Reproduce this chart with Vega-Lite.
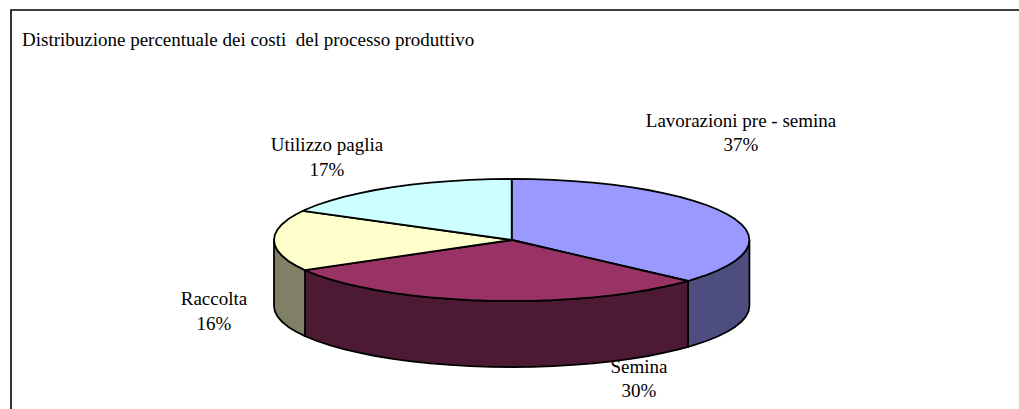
{"$schema":"https://vega.github.io/schema/vega-lite/v6.json","width":1019,"height":409,"padding":0,"autosize":{"type":"none"},"background":"white","config":{"view":{"stroke":null}},
"datasets":{
"frame":[{"o":0,"x":1019,"y":10},{"o":1,"x":11,"y":10},{"o":2,"x":11,"y":409}],
"title":[{"text":"Distribuzione percentuale dei costi \u00a0del processo produttivo","x":22,"y":40}],
"labels":[
{"text":"Lavorazioni pre - semina","x":741,"y":121},
{"text":"37%","x":741,"y":145},
{"text":"Utilizzo paglia","x":327,"y":145},
{"text":"17%","x":327,"y":170},
{"text":"Raccolta","x":214,"y":299},
{"text":"16%","x":214,"y":324},
{"text":"Semina","x":639,"y":367},
{"text":"30%","x":639,"y":391}],
"slices":[
{"p":"wa","o":0,"x":749.4,"y":240},{"p":"wa","o":1,"x":748.5,"y":245.3},{"p":"wa","o":2,"x":745.8,"y":250.6},{"p":"wa","o":3,"x":741.3,"y":255.8},{"p":"wa","o":4,"x":735.1,"y":260.9},{"p":"wa","o":5,"x":727.1,"y":265.8},{"p":"wa","o":6,"x":717.6,"y":270.5},{"p":"wa","o":7,"x":706.4,"y":275},{"p":"wa","o":8,"x":693.8,"y":279.2},{"p":"wa","o":9,"x":688,"y":281},{"p":"wa","o":10,"x":688,"y":347},{"p":"wa","o":11,"x":693.8,"y":345.2},{"p":"wa","o":12,"x":706.4,"y":341},{"p":"wa","o":13,"x":717.6,"y":336.5},{"p":"wa","o":14,"x":727.1,"y":331.8},{"p":"wa","o":15,"x":735.1,"y":326.9},{"p":"wa","o":16,"x":741.3,"y":321.8},{"p":"wa","o":17,"x":745.8,"y":316.6},{"p":"wa","o":18,"x":748.5,"y":311.3},{"p":"wa","o":19,"x":749.4,"y":306},{"p":"wa","o":20,"x":749.4,"y":240},
{"p":"wb","o":0,"x":688,"y":281},{"p":"wb","o":1,"x":679.8,"y":283.1},{"p":"wb","o":2,"x":664.5,"y":286.7},{"p":"wb","o":3,"x":648,"y":290},{"p":"wb","o":4,"x":630.6,"y":292.8},{"p":"wb","o":5,"x":612.2,"y":295.3},{"p":"wb","o":6,"x":593,"y":297.3},{"p":"wb","o":7,"x":573.2,"y":298.9},{"p":"wb","o":8,"x":553,"y":300.1},{"p":"wb","o":9,"x":532.4,"y":300.8},{"p":"wb","o":10,"x":511.7,"y":301},{"p":"wb","o":11,"x":491,"y":300.8},{"p":"wb","o":12,"x":470.4,"y":300.1},{"p":"wb","o":13,"x":450.2,"y":298.9},{"p":"wb","o":14,"x":430.4,"y":297.3},{"p":"wb","o":15,"x":411.2,"y":295.3},{"p":"wb","o":16,"x":392.8,"y":292.8},{"p":"wb","o":17,"x":375.4,"y":290},{"p":"wb","o":18,"x":358.9,"y":286.7},{"p":"wb","o":19,"x":343.6,"y":283.1},{"p":"wb","o":20,"x":329.6,"y":279.2},{"p":"wb","o":21,"x":317,"y":275},{"p":"wb","o":22,"x":305.8,"y":270.5},{"p":"wb","o":23,"x":305,"y":270.1},{"p":"wb","o":24,"x":305,"y":336.1},{"p":"wb","o":25,"x":305.8,"y":336.5},{"p":"wb","o":26,"x":317,"y":341},{"p":"wb","o":27,"x":329.6,"y":345.2},{"p":"wb","o":28,"x":343.6,"y":349.1},{"p":"wb","o":29,"x":358.9,"y":352.7},{"p":"wb","o":30,"x":375.4,"y":356},{"p":"wb","o":31,"x":392.8,"y":358.8},{"p":"wb","o":32,"x":411.2,"y":361.3},{"p":"wb","o":33,"x":430.4,"y":363.3},{"p":"wb","o":34,"x":450.2,"y":364.9},{"p":"wb","o":35,"x":470.4,"y":366.1},{"p":"wb","o":36,"x":491,"y":366.8},{"p":"wb","o":37,"x":511.7,"y":367},{"p":"wb","o":38,"x":532.4,"y":366.8},{"p":"wb","o":39,"x":553,"y":366.1},{"p":"wb","o":40,"x":573.2,"y":364.9},{"p":"wb","o":41,"x":593,"y":363.3},{"p":"wb","o":42,"x":612.2,"y":361.3},{"p":"wb","o":43,"x":630.6,"y":358.8},{"p":"wb","o":44,"x":648,"y":356},{"p":"wb","o":45,"x":664.5,"y":352.7},{"p":"wb","o":46,"x":679.8,"y":349.1},{"p":"wb","o":47,"x":688,"y":347},{"p":"wb","o":48,"x":688,"y":281},
{"p":"wc","o":0,"x":305,"y":270.1},{"p":"wc","o":1,"x":296.3,"y":265.8},{"p":"wc","o":2,"x":288.3,"y":260.9},{"p":"wc","o":3,"x":282.1,"y":255.8},{"p":"wc","o":4,"x":277.6,"y":250.6},{"p":"wc","o":5,"x":274.9,"y":245.3},{"p":"wc","o":6,"x":274,"y":240},{"p":"wc","o":7,"x":274,"y":306},{"p":"wc","o":8,"x":274.9,"y":311.3},{"p":"wc","o":9,"x":277.6,"y":316.6},{"p":"wc","o":10,"x":282.1,"y":321.8},{"p":"wc","o":11,"x":288.3,"y":326.9},{"p":"wc","o":12,"x":296.3,"y":331.8},{"p":"wc","o":13,"x":305,"y":336.1},{"p":"wc","o":14,"x":305,"y":270.1},
{"p":"a","o":0,"x":511.7,"y":240},{"p":"a","o":1,"x":511.7,"y":179},{"p":"a","o":2,"x":532.4,"y":179.2},{"p":"a","o":3,"x":553,"y":179.9},{"p":"a","o":4,"x":573.2,"y":181.1},{"p":"a","o":5,"x":593,"y":182.7},{"p":"a","o":6,"x":612.2,"y":184.7},{"p":"a","o":7,"x":630.6,"y":187.2},{"p":"a","o":8,"x":648,"y":190},{"p":"a","o":9,"x":664.5,"y":193.3},{"p":"a","o":10,"x":679.8,"y":196.9},{"p":"a","o":11,"x":693.8,"y":200.8},{"p":"a","o":12,"x":706.4,"y":205},{"p":"a","o":13,"x":717.6,"y":209.5},{"p":"a","o":14,"x":727.1,"y":214.2},{"p":"a","o":15,"x":735.1,"y":219.1},{"p":"a","o":16,"x":741.3,"y":224.2},{"p":"a","o":17,"x":745.8,"y":229.4},{"p":"a","o":18,"x":748.5,"y":234.7},{"p":"a","o":19,"x":749.4,"y":240},{"p":"a","o":20,"x":748.5,"y":245.3},{"p":"a","o":21,"x":745.8,"y":250.6},{"p":"a","o":22,"x":741.3,"y":255.8},{"p":"a","o":23,"x":735.1,"y":260.9},{"p":"a","o":24,"x":727.1,"y":265.8},{"p":"a","o":25,"x":717.6,"y":270.5},{"p":"a","o":26,"x":706.4,"y":275},{"p":"a","o":27,"x":693.8,"y":279.2},{"p":"a","o":28,"x":688,"y":281},{"p":"a","o":29,"x":511.7,"y":240},
{"p":"b","o":0,"x":511.7,"y":240},{"p":"b","o":1,"x":688,"y":281},{"p":"b","o":2,"x":679.8,"y":283.1},{"p":"b","o":3,"x":664.5,"y":286.7},{"p":"b","o":4,"x":648,"y":290},{"p":"b","o":5,"x":630.6,"y":292.8},{"p":"b","o":6,"x":612.2,"y":295.3},{"p":"b","o":7,"x":593,"y":297.3},{"p":"b","o":8,"x":573.2,"y":298.9},{"p":"b","o":9,"x":553,"y":300.1},{"p":"b","o":10,"x":532.4,"y":300.8},{"p":"b","o":11,"x":511.7,"y":301},{"p":"b","o":12,"x":491,"y":300.8},{"p":"b","o":13,"x":470.4,"y":300.1},{"p":"b","o":14,"x":450.2,"y":298.9},{"p":"b","o":15,"x":430.4,"y":297.3},{"p":"b","o":16,"x":411.2,"y":295.3},{"p":"b","o":17,"x":392.8,"y":292.8},{"p":"b","o":18,"x":375.4,"y":290},{"p":"b","o":19,"x":358.9,"y":286.7},{"p":"b","o":20,"x":343.6,"y":283.1},{"p":"b","o":21,"x":329.6,"y":279.2},{"p":"b","o":22,"x":317,"y":275},{"p":"b","o":23,"x":305.8,"y":270.5},{"p":"b","o":24,"x":305,"y":270.1},{"p":"b","o":25,"x":511.7,"y":240},
{"p":"c","o":0,"x":511.7,"y":240},{"p":"c","o":1,"x":305,"y":270.1},{"p":"c","o":2,"x":296.3,"y":265.8},{"p":"c","o":3,"x":288.3,"y":260.9},{"p":"c","o":4,"x":282.1,"y":255.8},{"p":"c","o":5,"x":277.6,"y":250.6},{"p":"c","o":6,"x":274.9,"y":245.3},{"p":"c","o":7,"x":274,"y":240},{"p":"c","o":8,"x":274.9,"y":234.7},{"p":"c","o":9,"x":277.6,"y":229.4},{"p":"c","o":10,"x":282.1,"y":224.2},{"p":"c","o":11,"x":288.3,"y":219.1},{"p":"c","o":12,"x":296.3,"y":214.2},{"p":"c","o":13,"x":303,"y":210.8},{"p":"c","o":14,"x":511.7,"y":240},
{"p":"d","o":0,"x":511.7,"y":240},{"p":"d","o":1,"x":303,"y":210.8},{"p":"d","o":2,"x":305.8,"y":209.5},{"p":"d","o":3,"x":317,"y":205},{"p":"d","o":4,"x":329.6,"y":200.8},{"p":"d","o":5,"x":343.6,"y":196.9},{"p":"d","o":6,"x":358.9,"y":193.3},{"p":"d","o":7,"x":375.4,"y":190},{"p":"d","o":8,"x":392.8,"y":187.2},{"p":"d","o":9,"x":411.2,"y":184.7},{"p":"d","o":10,"x":430.4,"y":182.7},{"p":"d","o":11,"x":450.2,"y":181.1},{"p":"d","o":12,"x":470.4,"y":179.9},{"p":"d","o":13,"x":491,"y":179.2},{"p":"d","o":14,"x":511.7,"y":179},{"p":"d","o":15,"x":511.7,"y":240}
]},
"layer":[
{"data":{"name":"frame"},"mark":{"type":"line","stroke":"black","strokeWidth":1.6,"clip":true},"encoding":{"x":{"field":"x","type":"quantitative","scale":{"domain":[0,1019],"nice":false,"zero":false},"axis":null},"y":{"field":"y","type":"quantitative","scale":{"domain":[409,0],"nice":false,"zero":false},"axis":null},"order":{"field":"o","type":"quantitative"}}},
{"data":{"name":"slices"},"mark":{"type":"line","stroke":"black","strokeWidth":1.8,"strokeJoin":"round"},"encoding":{"x":{"field":"x","type":"quantitative","scale":{"domain":[0,1019],"nice":false,"zero":false},"axis":null},"y":{"field":"y","type":"quantitative","scale":{"domain":[409,0],"nice":false,"zero":false},"axis":null},"order":{"field":"o","type":"quantitative"},"fill":{"field":"p","type":"nominal","legend":null,"sort":null,"scale":{"domain":["wa","wb","wc","a","b","c","d"],"range":["#4D4D80","#4D1A33","#808066","#9999FF","#993366","#FFFFCC","#CCFFFF"]}}}},
{"data":{"name":"title"},"mark":{"type":"text","font":"Liberation Serif","fontSize":19,"baseline":"middle","align":"left","fill":"black"},"encoding":{"x":{"field":"x","type":"quantitative","scale":{"domain":[0,1019],"nice":false,"zero":false},"axis":null},"y":{"field":"y","type":"quantitative","scale":{"domain":[409,0],"nice":false,"zero":false},"axis":null},"text":{"field":"text"}}},
{"data":{"name":"labels"},"mark":{"type":"text","font":"Liberation Serif","fontSize":19,"baseline":"middle","align":"center","fill":"black"},"encoding":{"x":{"field":"x","type":"quantitative","scale":{"domain":[0,1019],"nice":false,"zero":false},"axis":null},"y":{"field":"y","type":"quantitative","scale":{"domain":[409,0],"nice":false,"zero":false},"axis":null},"text":{"field":"text"}}}
]}
